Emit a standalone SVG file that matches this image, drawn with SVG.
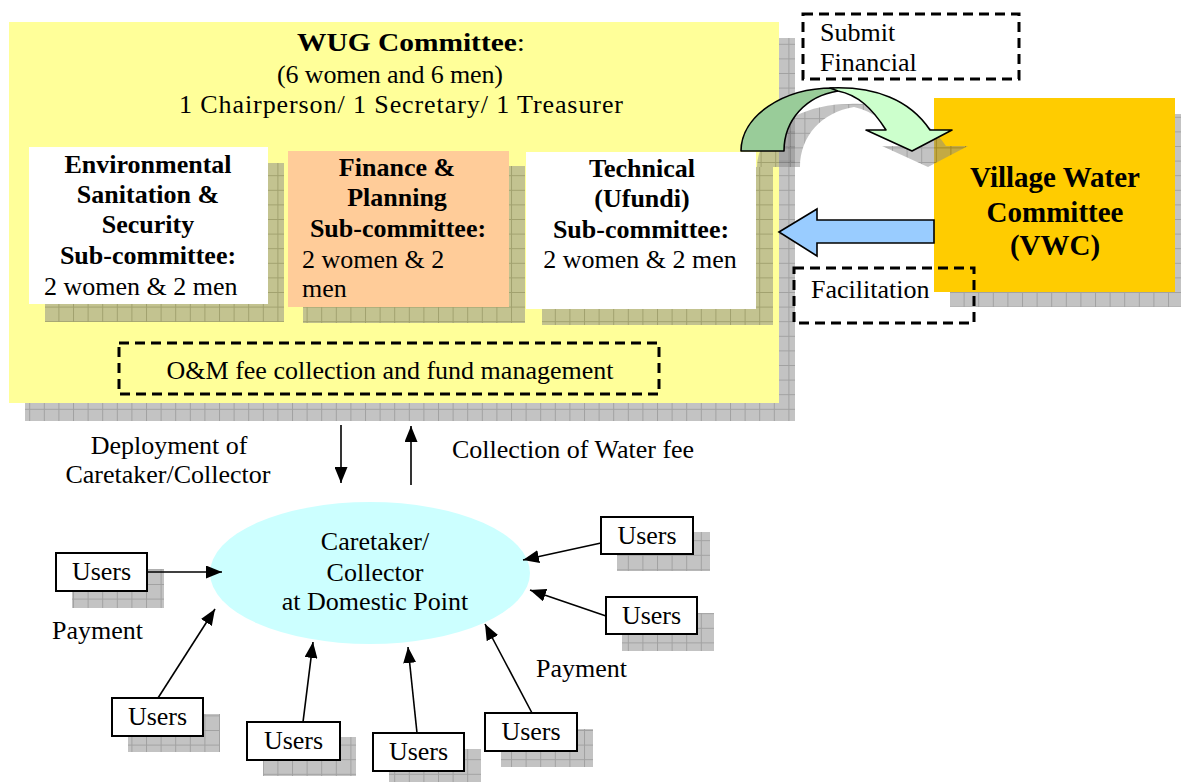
<svg xmlns="http://www.w3.org/2000/svg" width="1181" height="782" viewBox="0 0 1181 782">
<style>
text{font-family:"Liberation Serif","Times New Roman",serif;font-size:26px;fill:#000}
.b{font-weight:bold}
.m{text-anchor:middle}
.sh{fill:url(#grid);fill-opacity:0.5}
.ubox{fill:#fff;stroke:#000;stroke-width:2}
.dash{fill:none;stroke:#000;stroke-width:3;stroke-dasharray:10 6}
.con{stroke:#000;stroke-width:1.6;fill:none;marker-end:url(#ah)}
</style>
<defs>
<pattern id="grid" patternUnits="userSpaceOnUse" width="14.6" height="14.6">
<rect width="14.6" height="14.6" fill="#888"/>
<path d="M0,0.5H14.6M0.5,0V14.6" stroke="#444" stroke-width="1"/>
</pattern>
<marker id="ah" viewBox="0 0 16 13" refX="16" refY="6.5" markerWidth="16" markerHeight="13" markerUnits="userSpaceOnUse" orient="auto">
<path d="M0,0L16,6.5L0,13Z" fill="#000"/>
</marker>
</defs>

<g id="wug">
<rect class="sh" x="25" y="38" width="770" height="383"/>
<rect x="9" y="22" width="770" height="381" fill="#FFFF99"/>
<text x="297" y="51" textLength="228" lengthAdjust="spacingAndGlyphs"><tspan class="b">WUG Committee</tspan>:</text>
<text x="277" y="83" textLength="226">(6 women and 6 men)</text>
<text x="179" y="113" textLength="444">1 Chairperson/ 1 Secretary/ 1 Treasurer</text>
</g>

<g id="env">
<rect class="sh" x="45" y="163" width="239" height="159"/>
<rect x="29" y="147" width="239" height="157" fill="#fff"/>
<text class="b m" x="148" y="173">Environmental</text>
<text class="b m" x="148" y="203">Sanitation &amp;</text>
<text class="b m" x="148" y="233">Security</text>
<text class="b m" x="148" y="264">Sub-committee:</text>
<text x="44" y="295">2 women &amp; 2 men</text>
</g>

<g id="finance">
<rect class="sh" x="303" y="166" width="222" height="157"/>
<rect x="288" y="151" width="221" height="156" fill="#FFCC99"/>
<text class="b m" x="397" y="176">Finance &amp;</text>
<text class="b m" x="397" y="206">Planning</text>
<text class="b m" x="398" y="237">Sub-committee:</text>
<text x="302" y="268">2 women &amp; 2</text>
<text x="302" y="297">men</text>
</g>

<g id="technical">
<rect class="sh" x="542" y="167" width="231" height="158"/>
<rect x="526" y="152" width="230" height="157" fill="#fff"/>
<text class="b m" x="642" y="177">Technical</text>
<text class="b m" x="642" y="207">(Ufundi)</text>
<text class="b m" x="641" y="238">Sub-committee:</text>
<text class="m" x="640" y="268">2 women &amp; 2 men</text>
</g>

<g id="om">
<rect class="dash" x="119" y="343" width="540" height="51" stroke-width="2.5"/>
<text class="m" x="390" y="379">O&amp;M fee collection and fund management</text>
</g>

<g id="vwc">
<rect class="sh" x="950" y="114" width="241" height="193"/>
<rect x="934" y="98" width="241" height="194" fill="#FFCC00"/>
<text class="b m" x="1055" y="187" style="font-size:29px">Village Water</text>
<text class="b m" x="1055" y="222" style="font-size:29px">Committee</text>
<text class="b m" x="1055" y="255" style="font-size:29px">(VWC)</text>
</g>

<g id="submit">
<rect class="dash" x="803" y="14" width="216" height="65"/>
<text x="820" y="41">Submit</text>
<text x="820" y="71">Financial</text>
</g>

<g id="caretaker">
<ellipse cx="370" cy="573" rx="160" ry="71" fill="#CCFFFF"/>
<text class="m" x="375" y="550">Caretaker/</text>
<text class="m" x="375" y="581">Collector</text>
<text class="m" x="375" y="610">at Domestic Point</text>
</g>

<g id="users1"><rect class="sh" x="72" y="569" width="92" height="39"/><rect class="ubox" x="56" y="553" width="91" height="38"/><text class="m" x="101.5" y="580">Users</text></g>
<g id="users2"><rect class="sh" x="128" y="714" width="92" height="38"/><rect class="ubox" x="112" y="698" width="91" height="38"/><text class="m" x="157.5" y="725">Users</text></g>
<g id="users3"><rect class="sh" x="263" y="737" width="93" height="39"/><rect class="ubox" x="247" y="722" width="93" height="38"/><text class="m" x="293.5" y="749">Users</text></g>
<g id="users4"><rect class="sh" x="389" y="749" width="92" height="39"/><rect class="ubox" x="373" y="733" width="91" height="38"/><text class="m" x="418.5" y="760">Users</text></g>
<g id="users5"><rect class="sh" x="501" y="729" width="92" height="38"/><rect class="ubox" x="485" y="713" width="92" height="38"/><text class="m" x="531" y="740">Users</text></g>
<g id="users6"><rect class="sh" x="617" y="532" width="93" height="39"/><rect class="ubox" x="601" y="517" width="92" height="37"/><text class="m" x="647" y="544">Users</text></g>
<g id="users7"><rect class="sh" x="622" y="613" width="92" height="38"/><rect class="ubox" x="606" y="597" width="91" height="37"/><text class="m" x="651.5" y="624">Users</text></g>

<g id="labels">
<text class="m" x="169" y="454">Deployment of</text>
<text class="m" x="168" y="483">Caretaker/Collector</text>
<text x="452" y="458">Collection of Water fee</text>
<text x="52" y="639">Payment</text>
<text x="536" y="677">Payment</text>
</g>

<g id="facilitation">
<rect class="dash" x="794" y="268" width="180" height="55"/>
<text x="811" y="298">Facilitation</text>
</g>

<g id="connectors">
<g transform="translate(16,16)">
<path class="sh" d="M741,151 C741,116 783,88 833,88 C875,86 910,100 930,130 L952,130 L912,151 L866,130 L886,130 C872,108 858,95 838,91 C806,96 784,120 784,151 Z"/>
</g>
<path d="M741,151 C741,116 783,88 833,88 L838,91 C806,96 784,120 784,151 Z" fill="#99CC99" stroke="#000" stroke-width="1.6" stroke-linejoin="round"/>
<path d="M830,88 C875,86 910,100 930,130 L952,130 L912,151 L866,130 L886,130 C872,108 858,95 838,91 Z" fill="#CCFFCC" stroke="#000" stroke-width="1.6" stroke-linejoin="round"/>
<path d="M779,232 L817,209 L817,220 L934,220 L934,243 L817,243 L817,256 Z" fill="#99CCFF" stroke="#000" stroke-width="1.6"/>
<line class="con" x1="341" y1="425" x2="341" y2="483"/>
<line class="con" x1="411" y1="485" x2="411" y2="426"/>
<line class="con" x1="147" y1="572" x2="222" y2="572"/>
<line class="con" x1="158" y1="698" x2="215" y2="609"/>
<line class="con" x1="303" y1="722" x2="313" y2="642"/>
<line class="con" x1="417" y1="733" x2="408" y2="647"/>
<line class="con" x1="532" y1="713" x2="485" y2="624"/>
<line class="con" x1="601" y1="543" x2="523" y2="560"/>
<line class="con" x1="606" y1="616" x2="530" y2="590"/>
</g>
</svg>
